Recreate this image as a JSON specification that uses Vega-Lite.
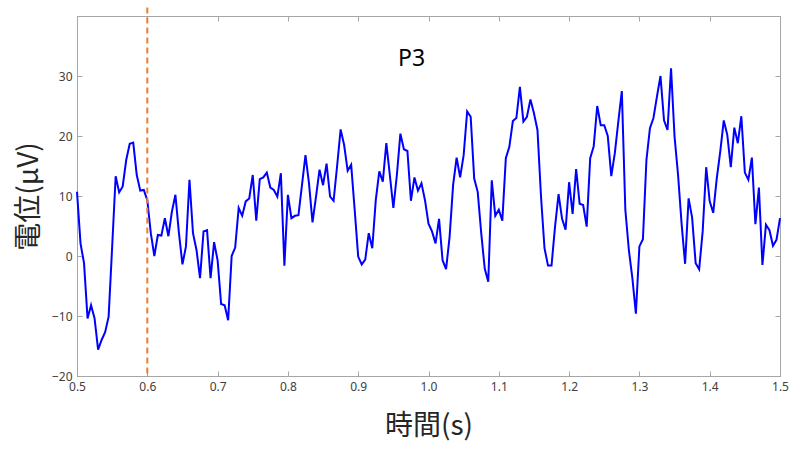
{
  "$schema": "https://vega.github.io/schema/vega-lite/v6.json",
  "autosize": {"type": "none"},
  "width": 703,
  "height": 360,
  "padding": {"left": 77, "top": 16, "right": 13, "bottom": 74},
  "background": "white",
  "config": {
    "view": {"stroke": "#A6A6A6", "strokeWidth": 1},
    "axis": {
      "domainColor": "#A6A6A6", "tickColor": "#A6A6A6", "tickSize": -5,
      "grid": false, "labelFont": "Noto Sans", "labelFontSize": 12, "labelColor": "#404040",
      "titleFont": "Noto Sans CJK JP", "titleFontSize": 28, "titleFontWeight": "normal", "titleColor": "#262626"
    }
  },
  "title": {"text": "P3", "font": "Noto Sans", "fontSize": 23, "fontWeight": "normal", "color": "#000000", "offset": -64, "dx": -17},
  "data": {"values": [
    {"t":0.500,"v":10.7},{"t":0.505,"v":2.1},{"t":0.510,"v":-1.2},{"t":0.515,"v":-10.4},{"t":0.520,"v":-8.2},
    {"t":0.525,"v":-10.4},{"t":0.530,"v":-15.6},{"t":0.535,"v":-14.0},{"t":0.540,"v":-12.7},{"t":0.545,"v":-10.1},
    {"t":0.550,"v":1.5},{"t":0.555,"v":13.3},{"t":0.560,"v":10.6},{"t":0.565,"v":11.6},{"t":0.570,"v":16.0},
    {"t":0.575,"v":18.7},{"t":0.580,"v":18.9},{"t":0.585,"v":13.5},{"t":0.590,"v":10.9},{"t":0.595,"v":11.0},
    {"t":0.600,"v":9.3},{"t":0.605,"v":3.8},{"t":0.610,"v":0.0},{"t":0.615,"v":3.5},{"t":0.620,"v":3.4},
    {"t":0.625,"v":6.3},{"t":0.630,"v":3.3},{"t":0.635,"v":7.4},{"t":0.640,"v":10.2},{"t":0.645,"v":3.8},
    {"t":0.650,"v":-1.4},{"t":0.655,"v":1.6},{"t":0.660,"v":12.7},{"t":0.665,"v":3.8},{"t":0.670,"v":1.0},
    {"t":0.675,"v":-3.7},{"t":0.680,"v":4.1},{"t":0.685,"v":4.3},{"t":0.690,"v":-3.7},{"t":0.695,"v":2.3},
    {"t":0.700,"v":-0.7},{"t":0.705,"v":-8.0},{"t":0.710,"v":-8.2},{"t":0.715,"v":-10.7},{"t":0.720,"v":0.0},
    {"t":0.725,"v":1.4},{"t":0.730,"v":8.0},{"t":0.735,"v":6.7},{"t":0.740,"v":9.1},{"t":0.745,"v":9.6},
    {"t":0.750,"v":13.5},{"t":0.755,"v":5.9},{"t":0.760,"v":12.8},{"t":0.765,"v":13.1},{"t":0.770,"v":13.9},
    {"t":0.775,"v":11.4},{"t":0.780,"v":11.0},{"t":0.785,"v":9.9},{"t":0.790,"v":13.8},{"t":0.795,"v":-1.6},
    {"t":0.800,"v":10.2},{"t":0.805,"v":6.3},{"t":0.810,"v":6.7},{"t":0.815,"v":6.8},{"t":0.820,"v":11.8},
    {"t":0.825,"v":16.8},{"t":0.830,"v":12.1},{"t":0.835,"v":5.6},{"t":0.840,"v":9.9},{"t":0.845,"v":14.4},
    {"t":0.850,"v":11.8},{"t":0.855,"v":15.4},{"t":0.860,"v":9.9},{"t":0.865,"v":9.2},{"t":0.870,"v":15.0},
    {"t":0.875,"v":21.1},{"t":0.880,"v":18.5},{"t":0.885,"v":14.2},{"t":0.890,"v":15.2},{"t":0.895,"v":7.7},
    {"t":0.900,"v":-0.1},{"t":0.905,"v":-1.4},{"t":0.910,"v":-0.6},{"t":0.915,"v":3.8},{"t":0.920,"v":1.3},
    {"t":0.925,"v":9.3},{"t":0.930,"v":14.1},{"t":0.935,"v":12.4},{"t":0.940,"v":18.8},{"t":0.945,"v":13.5},
    {"t":0.950,"v":8.0},{"t":0.955,"v":13.5},{"t":0.960,"v":20.4},{"t":0.965,"v":17.8},{"t":0.970,"v":17.5},
    {"t":0.975,"v":9.2},{"t":0.980,"v":13.1},{"t":0.985,"v":10.9},{"t":0.990,"v":12.1},{"t":0.995,"v":9.3},
    {"t":1.000,"v":5.4},{"t":1.005,"v":4.1},{"t":1.010,"v":2.1},{"t":1.015,"v":6.2},{"t":1.020,"v":-0.7},
    {"t":1.025,"v":-2.2},{"t":1.030,"v":3.2},{"t":1.035,"v":11.8},{"t":1.040,"v":16.4},{"t":1.045,"v":13.1},
    {"t":1.050,"v":16.8},{"t":1.055,"v":24.1},{"t":1.060,"v":23.2},{"t":1.065,"v":12.9},{"t":1.070,"v":10.7},
    {"t":1.075,"v":3.8},{"t":1.080,"v":-2.1},{"t":1.085,"v":-4.3},{"t":1.090,"v":12.6},{"t":1.095,"v":6.7},
    {"t":1.100,"v":7.7},{"t":1.105,"v":5.9},{"t":1.110,"v":16.3},{"t":1.115,"v":18.2},{"t":1.120,"v":22.5},
    {"t":1.125,"v":23.0},{"t":1.130,"v":28.2},{"t":1.135,"v":22.4},{"t":1.140,"v":23.2},{"t":1.145,"v":26.1},
    {"t":1.150,"v":23.8},{"t":1.155,"v":21.0},{"t":1.160,"v":10.0},{"t":1.165,"v":1.3},{"t":1.170,"v":-1.6},
    {"t":1.175,"v":-1.6},{"t":1.180,"v":4.9},{"t":1.185,"v":10.3},{"t":1.190,"v":6.2},{"t":1.195,"v":4.4},
    {"t":1.200,"v":12.3},{"t":1.205,"v":7.0},{"t":1.210,"v":14.5},{"t":1.215,"v":8.7},{"t":1.220,"v":8.5},
    {"t":1.225,"v":4.9},{"t":1.230,"v":16.3},{"t":1.235,"v":18.3},{"t":1.240,"v":25.0},{"t":1.245,"v":21.8},
    {"t":1.250,"v":21.8},{"t":1.255,"v":20.0},{"t":1.260,"v":13.3},{"t":1.265,"v":17.1},{"t":1.270,"v":22.4},
    {"t":1.275,"v":27.5},{"t":1.280,"v":7.7},{"t":1.285,"v":1.0},{"t":1.290,"v":-3.7},{"t":1.295,"v":-9.6},
    {"t":1.300,"v":1.6},{"t":1.305,"v":2.8},{"t":1.310,"v":16.0},{"t":1.315,"v":21.3},{"t":1.320,"v":23.0},
    {"t":1.325,"v":26.6},{"t":1.330,"v":30.0},{"t":1.335,"v":22.6},{"t":1.340,"v":21.0},{"t":1.345,"v":31.3},
    {"t":1.350,"v":19.9},{"t":1.355,"v":13.5},{"t":1.360,"v":5.4},{"t":1.365,"v":-1.3},{"t":1.370,"v":9.6},
    {"t":1.375,"v":6.4},{"t":1.380,"v":-1.2},{"t":1.385,"v":-2.2},{"t":1.390,"v":4.1},{"t":1.395,"v":14.8},
    {"t":1.400,"v":9.1},{"t":1.405,"v":7.2},{"t":1.410,"v":12.9},{"t":1.415,"v":17.4},{"t":1.420,"v":22.6},
    {"t":1.425,"v":20.2},{"t":1.430,"v":14.8},{"t":1.435,"v":21.4},{"t":1.440,"v":18.8},{"t":1.445,"v":23.3},
    {"t":1.450,"v":13.9},{"t":1.455,"v":12.7},{"t":1.460,"v":16.4},{"t":1.465,"v":5.3},{"t":1.470,"v":11.4},
    {"t":1.475,"v":-1.5},{"t":1.480,"v":5.2},{"t":1.485,"v":4.3},{"t":1.490,"v":1.7},{"t":1.495,"v":2.7},
    {"t":1.500,"v":6.3}
  ]},
  "layer": [
    {
      "mark": {"type": "line", "color": "#0000FF", "strokeWidth": 2},
      "encoding": {
        "x": {"field": "t", "type": "quantitative", "scale": {"domain": [0.5, 1.5], "nice": false, "zero": false},
              "axis": {"orient": "bottom", "title": "時間(s)", "values": [0.5,0.6,0.7,0.8,0.9,1,1.1,1.2,1.3,1.4,1.5], "labelPadding": 10, "titlePadding": 20, "labelFlush": false}},
        "y": {"field": "v", "type": "quantitative", "scale": {"domain": [-20, 40], "nice": false, "zero": false},
              "axis": {"orient": "left", "title": "電位(μV)", "values": [-20,-10,0,10,20,30], "labelPadding": 10, "titlePadding": 8}}
      }
    },
    {
      "data": {"values": [{"t": 0.6}]},
      "mark": {"type": "rule", "color": "#ED7D31", "strokeWidth": 2, "strokeDash": [6, 4]},
      "encoding": {
        "x": {"field": "t", "type": "quantitative", "axis": {"orient": "top", "labels": false, "title": null, "values": [0.5,0.6,0.7,0.8,0.9,1,1.1,1.2,1.3,1.4,1.5]}},
        "y": {"datum": 41.4, "type": "quantitative", "axis": {"orient": "right", "labels": false, "title": null, "values": [-20,-10,0,10,20,30]}},
        "y2": {"datum": -20}
      }
    }
  ],
  "resolve": {"axis": {"x": "independent", "y": "independent"}}
}
